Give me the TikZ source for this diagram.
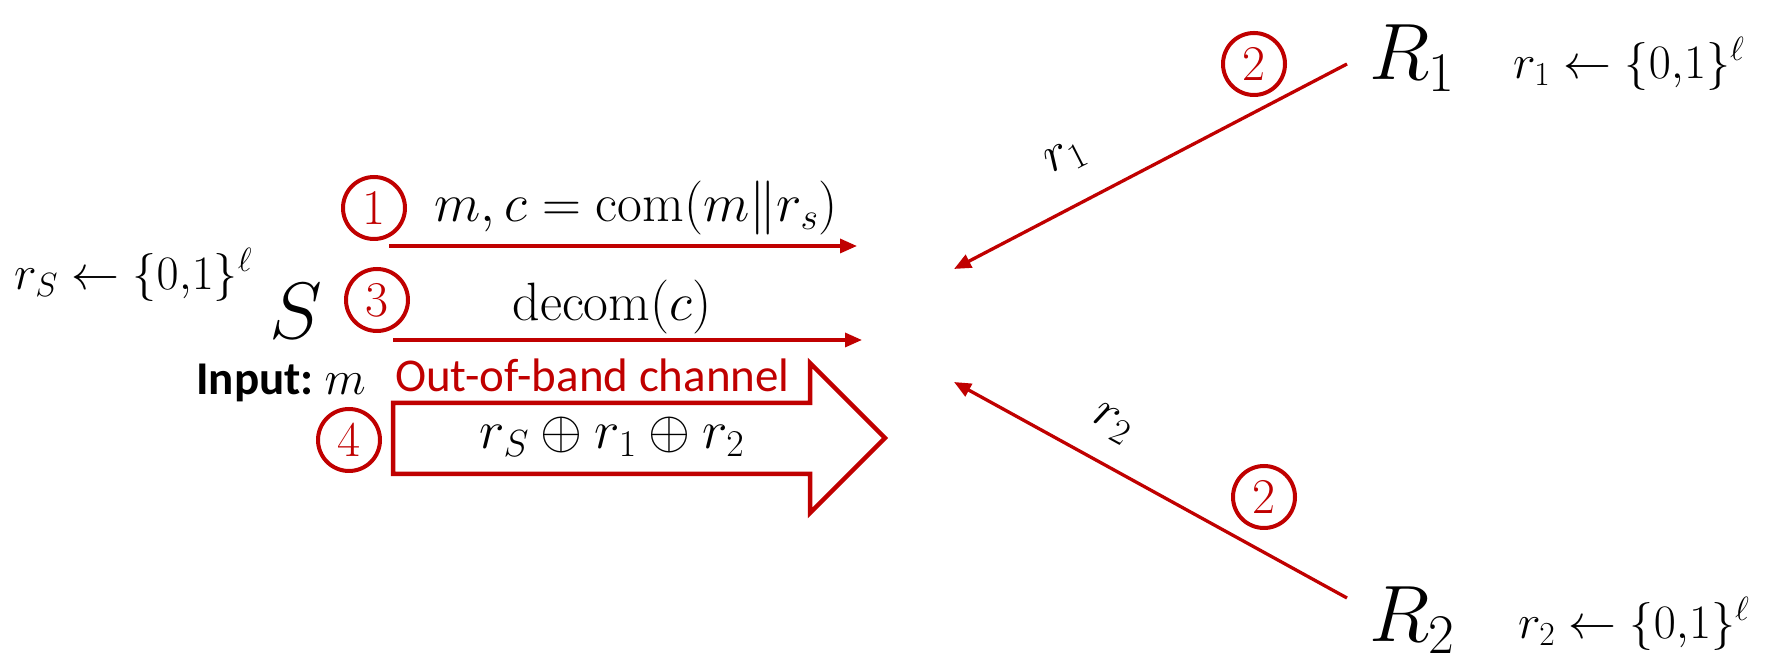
\RequirePackage{fix-cm}
\documentclass[tikz,border=0pt]{standalone}
\usepackage{fontspec}
\newfontfamily\carlito{Carlito}
\usetikzlibrary{arrows.meta}
\definecolor{dred}{RGB}{192,0,0}
\tikzset{
  num/.style={circle, draw=dred, line width=4pt, text=dred, minimum size=62pt, inner sep=0pt, font=\fontsize{50}{50}\selectfont},
  msg/.style={draw=dred, line width=3.3pt, -{Triangle[length=17pt,width=14pt]}},
  mtext/.style={font=\fontsize{54}{60}\selectfont, inner sep=0pt},
  ltext/.style={font=\fontsize{48}{54}\selectfont, inner sep=0pt},
  party/.style={font=\fontsize{80}{90}\selectfont, inner sep=0pt},
  bigarrow/.style={draw=dred, line width=4.5pt, line join=miter},
}
\begin{document}
\begin{tikzpicture}[x=1pt,y=1pt]
\useasboundingbox (0,0) rectangle (1770,655);
% sender
\node[ltext, anchor=west] (rS) at (14,380) {$r_S \leftarrow \{0{,}1\}^\ell$};
\node[party] (S) at (296,344) {$S$};
\node[num] (n1) at (374,447) {1};
\node[mtext] (m1) at (636,447) {$m, c = \mathrm{com}(m\|r_s)$};
\coordinate (a1s) at (389,409);
\coordinate (a1e) at (857,409);
\draw[msg] (a1s) -- (a1e);
\node[num] (n3) at (377,355) {3};
\node[mtext] (m3) at (612,348) {$\mathrm{decom}(c)$};
\coordinate (a3s) at (393,315);
\coordinate (a3e) at (862,315);
\draw[msg] (a3s) -- (a3e);
\node[anchor=base east, inner sep=0pt, font=\fontsize{48}{50}\selectfont] (inp) at (366,260) {{\carlito\fontsize{47}{50}\selectfont\bfseries Input:}\hspace{11pt}$m$};
\node[anchor=base west, inner sep=0pt, text=dred, font=\carlito\fontsize{47}{50}\selectfont] (oob) at (395,263) {Out-of-band channel};
\draw[bigarrow] (393,252) -- (810,252) -- (810,292) -- (885,217) -- (810,142) -- (810,181) -- (393,181) -- cycle;
\node[mtext] (xor) at (612,218) {$r_S \oplus r_1 \oplus r_2$};
\node[num] (n4) at (349,215) {4};
% receiver 1
\node[party, anchor=base west] (R1) at (1369,575) {$R_1$};
\node[num] (n2a) at (1254,591) {2};
\coordinate (b1s) at (1347,591);
\coordinate (b1e) at (954,386);
\draw[msg] (b1s) -- (b1e);
\node[ltext, font=\fontsize{52}{54}\selectfont, rotate=27] (l1) at (1066,497) {$r_1$};
\node[ltext, anchor=west] (r1l) at (1513,591) {$r_1 \leftarrow \{0{,}1\}^\ell$};
% receiver 2
\node[party, anchor=base west] (R2) at (1369,13) {$R_2$};
\node[num] (n2b) at (1264,158) {2};
\coordinate (b2s) at (1347,57);
\coordinate (b2e) at (954,273);
\draw[msg] (b2s) -- (b2e);
\node[ltext, font=\fontsize{52}{54}\selectfont, rotate=-29] (l2) at (1112,231) {$r_2$};
\node[ltext, anchor=west] (r2l) at (1518,31) {$r_2 \leftarrow \{0{,}1\}^\ell$};
\end{tikzpicture}
\end{document}
